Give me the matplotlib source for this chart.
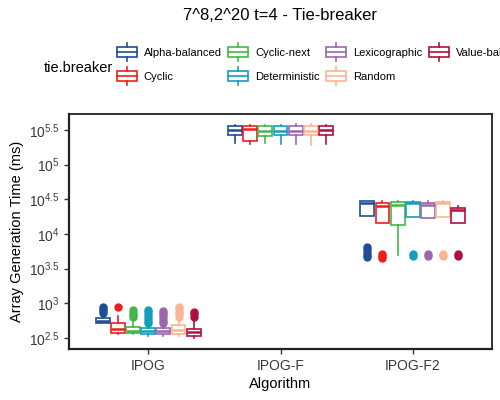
import numpy as np
import matplotlib.pyplot as plt
from matplotlib.legend_handler import HandlerBase
from matplotlib.patches import Rectangle
from matplotlib.lines import Line2D

plt.rcParams['font.family'] = ['Liberation Sans', 'DejaVu Sans']
plt.rcParams['mathtext.fontset'] = 'custom'
plt.rcParams['mathtext.rm'] = 'Liberation Sans'
plt.rcParams['mathtext.it'] = 'Liberation Sans'

algorithms = ['IPOG', 'IPOG-F', 'IPOG-F2']
breakers = ['Alpha-balanced', 'Cyclic', 'Cyclic-next', 'Deterministic',
            'Lexicographic', 'Random', 'Value-balanced']
colors = ['#1f4e96', '#f21c1c', '#45b649', '#129fbd', '#9a66ad', '#fcb594', '#b0103c']

# box stats as log10(ms): q1, median, q3, lower whisker, upper whisker
ipog_q1 = [2.72, 2.57, 2.57, 2.56, 2.56, 2.56, 2.53]
ipog_med = [2.75, 2.63, 2.60, 2.60, 2.60, 2.61, 2.58]
ipog_q3 = [2.79, 2.71, 2.66, 2.64, 2.64, 2.68, 2.63]
ipog_lo = [2.71, 2.55, 2.56, 2.53, 2.53, 2.53, 2.50]
ipog_hi = [2.83, 2.82, 2.76, 2.69, 2.69, 2.77, 2.76]
ipog_out = [[2.86, 2.89, 2.92, 2.95], [2.95], [2.80, 2.83, 2.86, 2.90],
            [2.71, 2.75, 2.79, 2.83, 2.87, 2.90], [2.71, 2.75, 2.79, 2.83, 2.86, 2.89],
            [2.80, 2.84, 2.88, 2.92, 2.95], [2.80, 2.84, 2.88]]

ipogf_q1 = [5.42, 5.34, 5.41, 5.42, 5.42, 5.42, 5.42]
ipogf_med = [5.50, 5.52, 5.49, 5.49, 5.49, 5.49, 5.50]
ipogf_q3 = [5.56, 5.55, 5.55, 5.56, 5.56, 5.56, 5.56]
ipogf_lo = [5.31, 5.30, 5.31, 5.30, 5.30, 5.29, 5.30]
ipogf_hi = [5.57, 5.57, 5.57, 5.57, 5.58, 5.58, 5.57]
ipogf_out = [[], [], [], [], [], [], []]

ipogf2_q1 = [4.26, 4.16, 4.13, 4.24, 4.23, 4.24, 4.16]
ipogf2_med = [4.45, 4.40, 4.42, 4.45, 4.42, 4.45, 4.35]
ipogf2_q3 = [4.47, 4.45, 4.46, 4.46, 4.45, 4.46, 4.37]
ipogf2_lo = [4.26, 4.16, 3.69, 4.24, 4.23, 4.24, 4.16]
ipogf2_hi = [4.48, 4.47, 4.47, 4.47, 4.47, 4.47, 4.41]
ipogf2_out = [[3.66, 3.70, 3.74, 3.78, 3.81], [3.65, 3.68, 3.71], [],
              [3.68, 3.71], [3.68, 3.71], [3.68, 3.71], [3.68, 3.71]]

groups = [
    (ipog_q1, ipog_med, ipog_q3, ipog_lo, ipog_hi, ipog_out),
    (ipogf_q1, ipogf_med, ipogf_q3, ipogf_lo, ipogf_hi, ipogf_out),
    (ipogf2_q1, ipogf2_med, ipogf2_q3, ipogf2_lo, ipogf2_hi, ipogf2_out),
]

ytick_exp = [2.5, 3, 3.5, 4, 4.5, 5, 5.5]

fig = plt.figure(figsize=(5, 4), dpi=100)
ax = fig.add_axes([0.138, 0.1275, 0.846, 0.5875])

dodge = 0.8
slot = dodge / len(breakers)
for g, (q1, med, q3, lo, hi, out) in enumerate(groups):
    for k, col in enumerate(colors):
        pos = g + 1 - dodge / 2 + slot * (k + 0.5)
        st = dict(q1=10 ** q1[k], med=10 ** med[k], q3=10 ** q3[k],
                  whislo=10 ** lo[k], whishi=10 ** hi[k],
                  fliers=10 ** np.array(out[k]))
        ax.bxp([st], positions=[pos], widths=slot * 0.92, patch_artist=True,
               showcaps=False,
               boxprops=dict(facecolor='white', edgecolor=col, linewidth=1.2),
               medianprops=dict(color=col, linewidth=1.8),
               whiskerprops=dict(color=col, linewidth=1.2),
               flierprops=dict(marker='o', markerfacecolor=col, markeredgecolor=col,
                               markersize=5))

ax.set_yscale('log')
ax.set_ylim(10 ** 2.34, 10 ** 5.73)
ax.set_yticks([10 ** e for e in ytick_exp])
ax.set_yticklabels(['$10^{%g}$' % e for e in ytick_exp])
ax.minorticks_off()
ax.set_xlim(0.4, 3.6)
ax.set_xticks([1, 2, 3])
ax.set_xticklabels(algorithms)
ax.tick_params(labelsize=10, colors='#333333', length=3.5, width=1, labelcolor='#3a3a3a')
for s in ax.spines.values():
    s.set_linewidth(1.3)
    s.set_color('#222222')
ax.spines['left'].set_linewidth(1.6)
ax.spines['bottom'].set_linewidth(1.6)
ax.set_xlabel('Algorithm', fontsize=10.5, labelpad=3)
ax.set_ylabel('Array Generation Time (ms)', fontsize=10.5, labelpad=3)

fig.text(0.56, 0.96, '7^8,2^20 t=4 - Tie-breaker', ha='center', va='center', fontsize=12)


class BoxKey(HandlerBase):
    # boxplot glyph like ggplot's legend key, centred on the label
    def create_artists(self, legend, orig, x0, y0, w, h, fontsize, trans):
        col = orig.get_color()
        cy = y0 + h / 2
        half = 0.81 * fontsize
        bh = 0.45 * fontsize
        rect = Rectangle((x0, cy - bh), w, 2 * bh, facecolor='white', edgecolor=col,
                         linewidth=1.2, transform=trans)
        mid = Line2D([x0, x0 + w], [cy, cy], color=col, linewidth=1.2, transform=trans)
        top = Line2D([x0 + w / 2] * 2, [cy + bh, cy + half], color=col, linewidth=1.2,
                     transform=trans)
        bot = Line2D([x0 + w / 2] * 2, [cy - half, cy - bh], color=col, linewidth=1.2,
                     transform=trans)
        return [rect, mid, top, bot]


handles = [Line2D([], [], color=c) for c in colors]
fig.legend(handles, breakers, handler_map={Line2D: BoxKey()}, ncol=4,
           loc='upper left', bbox_to_anchor=(0.234, 0.8805), frameon=False,
           fontsize=8, handlelength=1.8, handleheight=0.7, handletextpad=0.6,
           columnspacing=0.6, labelspacing=1.27, borderpad=0, borderaxespad=0)
fig.text(0.088, 0.83, 'tie.breaker', ha='left', va='center', fontsize=10.5)

fig.savefig('out.png', dpi=100)
